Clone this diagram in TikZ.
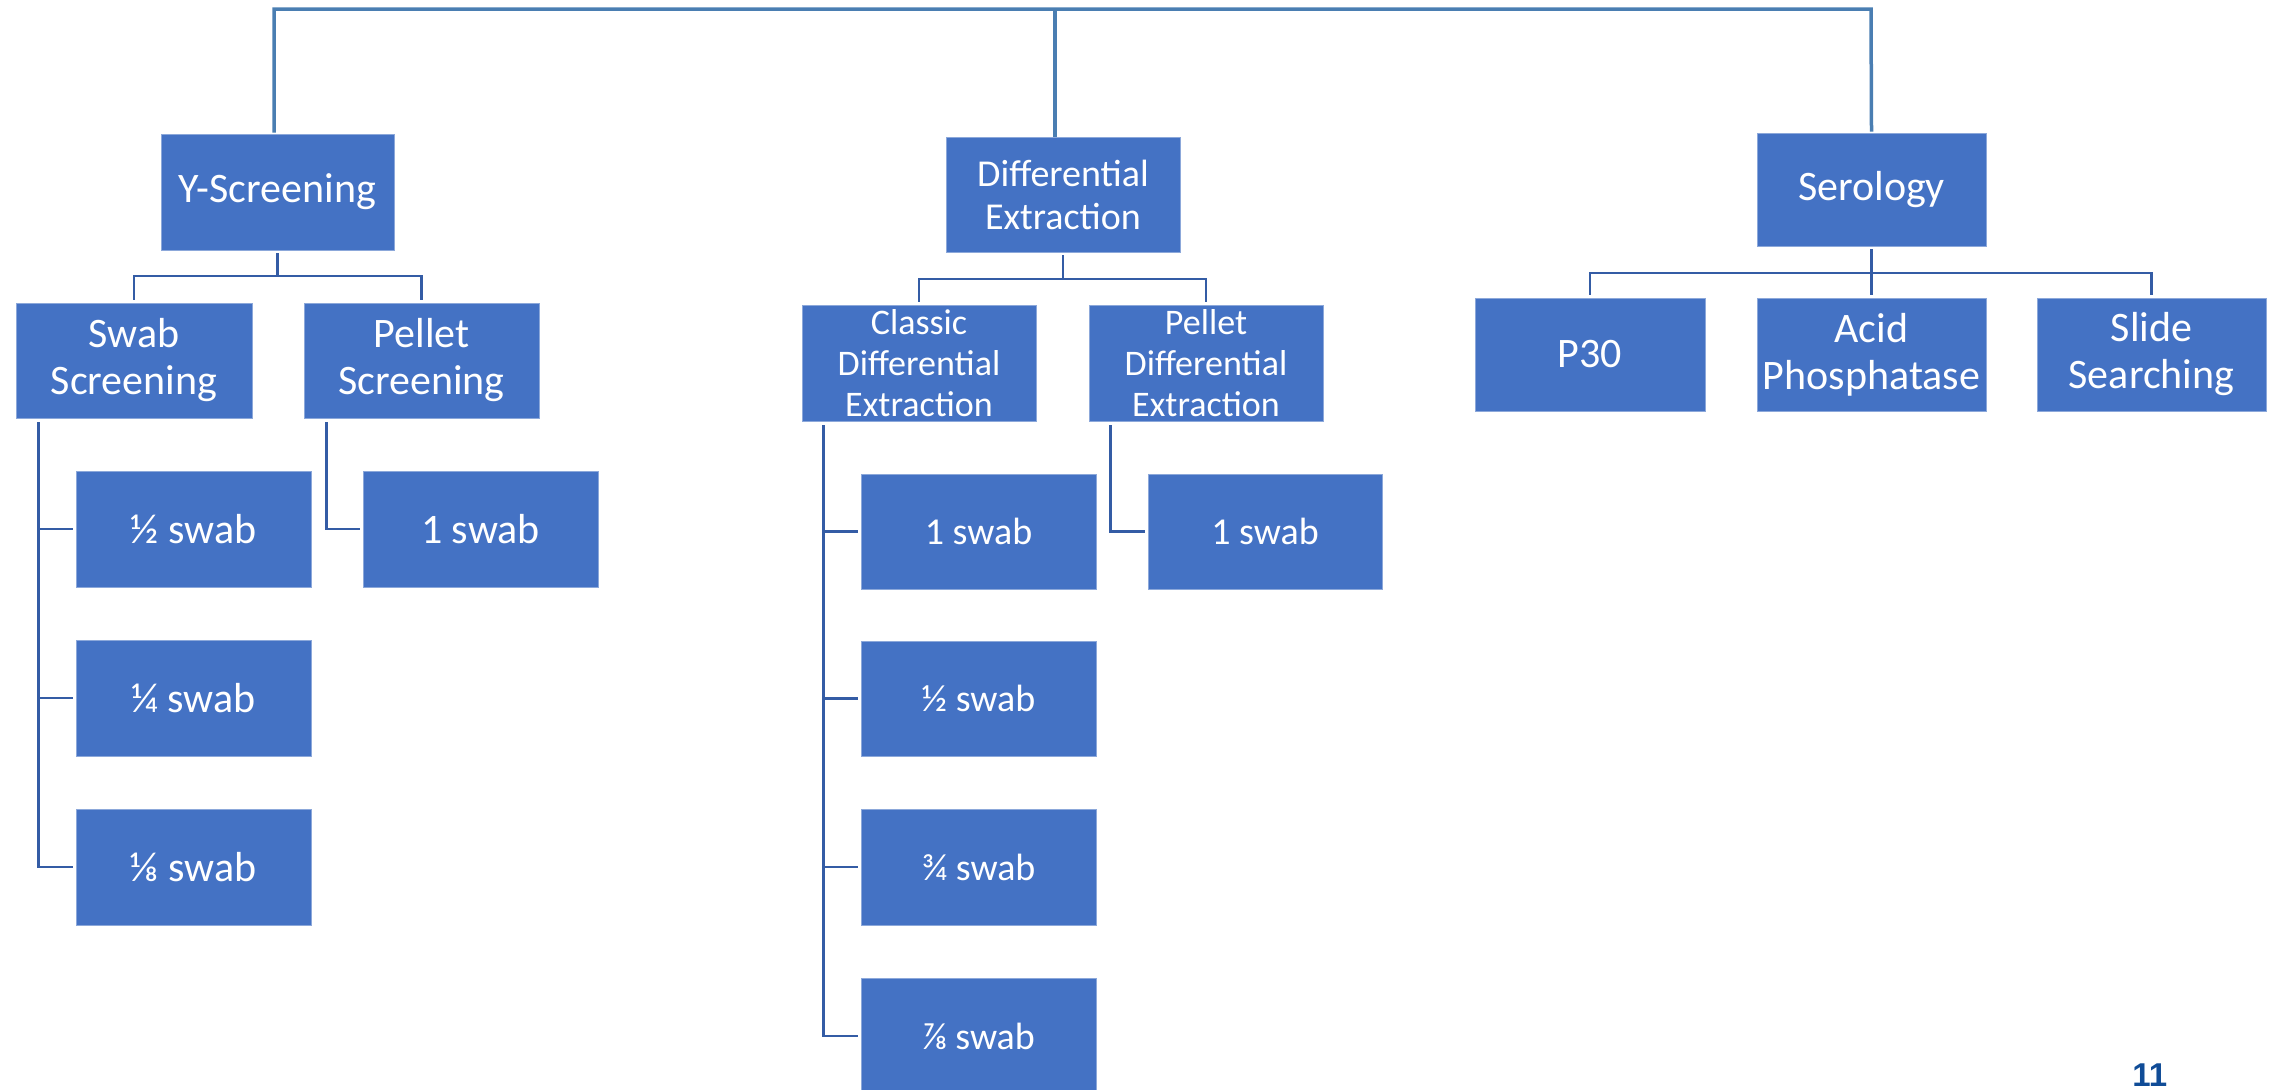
\documentclass[tikz,border=0pt]{standalone}
\usepackage{fontspec}
\setmainfont{Carlito}
\newfontfamily\pagenumfont{Liberation Sans}
\definecolor{boxblue}{RGB}{68,114,196}
\definecolor{boxedge}{RGB}{140,168,218}
\definecolor{busblue}{RGB}{74,126,178}
\definecolor{connblue}{RGB}{52,92,165}
\definecolor{pagenum}{RGB}{16,76,151}
\tikzset{
  x=0.5pt, y=-0.5pt,
  box/.style={rectangle, fill=boxblue, draw=boxedge, line width=0.4pt, text=white,
    align=center, inner sep=1pt},
  bigbox/.style={box, font=\fontsize{21}{23.5}\selectfont},
  midbox/.style={box, font=\fontsize{19}{21.5}\selectfont},
  smallbox/.style={box, font=\fontsize{18}{20.5}\selectfont},
  bus/.style={draw=busblue, line width=1.75pt},
  conn/.style={draw=connblue, line width=1.4pt},
}
\begin{document}
\begin{tikzpicture}
\useasboundingbox (0,0) rectangle (2280,1089);
\clip (0,0) rectangle (2280,1089);

% top level
\node[bigbox, minimum width=116.5pt, minimum height=58pt] (Y) at (277.5,192) {Y-Screening};
\node[midbox, minimum width=117pt, minimum height=57.5pt] (DE) at (1063,194.5) {Differential\\Extraction};
\node[bigbox, minimum width=114.5pt, minimum height=56.5pt] (SER) at (1871.5,189.5) {Serology};

% second level
\node[bigbox, minimum width=118pt, minimum height=57.5pt] (SW) at (134,360.5) {Swab\\Screening};
\node[bigbox, minimum width=117.5pt, minimum height=57.5pt] (PS) at (421.5,360.5) {Pellet\\Screening};
\node[smallbox, minimum width=117pt, minimum height=58pt] (CDE) at (919,363) {Classic\\Differential\\Extraction};
\node[smallbox, minimum width=117pt, minimum height=58pt] (PDE) at (1206,363) {Pellet\\Differential\\Extraction};
\node[bigbox, minimum width=115pt, minimum height=56.5pt] (P30) at (1590,354.5) {P30};
\node[bigbox, minimum width=114.5pt, minimum height=56.5pt] (ACP) at (1871.5,354.5) {Acid\\Phosphatase};
\node[bigbox, minimum width=114.5pt, minimum height=56.5pt] (SLD) at (2151.5,354.5) {Slide\\Searching};

% leaves
\node[bigbox, minimum width=117.5pt, minimum height=58pt] (SW1) at (193.5,529) {½ swab};
\node[bigbox, minimum width=117.5pt, minimum height=58pt] (SW2) at (193.5,698) {¼ swab};
\node[bigbox, minimum width=117.5pt, minimum height=58pt] (SW3) at (193.5,867) {⅛ swab};
\node[bigbox, minimum width=117.5pt, minimum height=58pt] (PS1) at (480.5,529) {1 swab};
\node[midbox, minimum width=117.5pt, minimum height=57.5pt] (CD1) at (978.5,531.5) {1 swab};
\node[midbox, minimum width=117.5pt, minimum height=57.5pt] (CD2) at (978.5,698.5) {½ swab};
\node[midbox, minimum width=117.5pt, minimum height=58pt] (CD3) at (978.5,867) {¾ swab};
\node[midbox, minimum width=117.5pt, minimum height=58pt] (CD4) at (978.5,1036) {⅞ swab};
\node[midbox, minimum width=117pt, minimum height=57.5pt] (PD1) at (1265,531.5) {1 swab};

% top bus
\coordinate (busL) at (274,9);
\coordinate (busR) at (1871,9);
\draw[bus] ([yshift=0.5pt]Y.north -| busL) -- (busL) -- (busR) -- ([yshift=0.5pt]SER.north);
\draw[bus] (DE.north -| 1055,0) -- (1055,9);

% Y-Screening children
\draw[conn] ([yshift=-1.5pt]Y.south) -- (Y.south |- 0,276);
\draw[conn] ([yshift=1.5pt]SW.north) -- (SW.north |- 0,276) -| ([yshift=1.5pt]PS.north);

% Differential extraction children
\draw[conn] ([yshift=-1.5pt]DE.south) -- (DE.south |- 0,279);
\draw[conn] ([yshift=1.5pt]CDE.north) -- (CDE.north |- 0,279) -| ([yshift=1.5pt]PDE.north);

% Serology children
\draw[conn] ([yshift=-1.5pt]SER.south) -- ([yshift=1.5pt]ACP.north);
\draw[conn] ([yshift=1.5pt]P30.north) -- (P30.north |- 0,273) -| ([yshift=1.5pt]SLD.north);

% leaf connectors
\foreach \leaf in {SW1,SW2,SW3}
  \draw[conn] ([xshift=11.5pt,yshift=-2pt]SW.south west) |- ([xshift=-1.5pt]\leaf.west);
\draw[conn] ([xshift=11.5pt,yshift=-2pt]PS.south west) |- ([xshift=-1.5pt]PS1.west);
\foreach \leaf in {CD1,CD2,CD3,CD4}
  \draw[conn] ([xshift=11pt,yshift=-2pt]CDE.south west) |- ([xshift=-1.5pt]\leaf.west);
\draw[conn] ([xshift=11pt,yshift=-2pt]PDE.south west) |- ([xshift=-1.5pt]PD1.west);

% page number
\node[anchor=base west, inner sep=0pt, text=pagenum, font=\pagenumfont\bfseries\fontsize{16.5}{18}\selectfont] (pg) at (2132,1086) {11};
\end{tikzpicture}
\end{document}
